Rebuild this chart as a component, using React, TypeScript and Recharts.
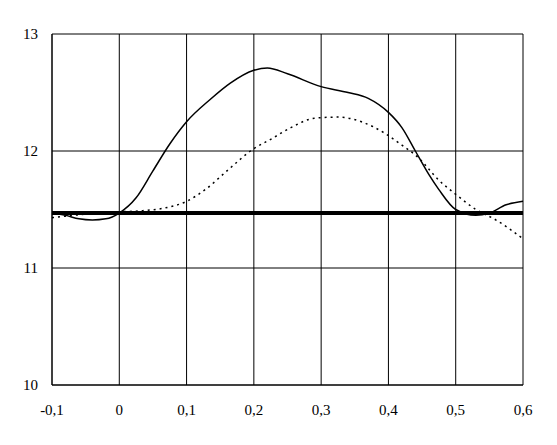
import { LineChart, Line, XAxis, YAxis, CartesianGrid, ReferenceLine } from "recharts";

// solid curve
const solidX = [-0.1, -0.08, -0.06, -0.04, -0.02, 0, 0.025, 0.05, 0.075, 0.1, 0.135, 0.165, 0.2, 0.22, 0.25, 0.3, 0.34, 0.37, 0.4, 0.42, 0.44, 0.46, 0.475, 0.5, 0.53, 0.55, 0.575, 0.6];
const solidY = [11.47, 11.45, 11.42, 11.41, 11.42, 11.47, 11.6, 11.83, 12.06, 12.25, 12.44, 12.58, 12.69, 12.71, 12.66, 12.55, 12.5, 12.45, 12.33, 12.2, 12.0, 11.8, 11.67, 11.5, 11.45, 11.47, 11.54, 11.57];

// dotted curve
const dottedX = [-0.1, -0.05, 0, 0.035, 0.065, 0.1, 0.13, 0.16, 0.2, 0.225, 0.255, 0.29, 0.325, 0.36, 0.395, 0.42, 0.445, 0.475, 0.5, 0.53, 0.56, 0.6];
const dottedY = [11.43, 11.46, 11.48, 11.49, 11.51, 11.57, 11.68, 11.83, 12.02, 12.1, 12.2, 12.28, 12.29, 12.25, 12.15, 12.05, 11.94, 11.75, 11.63, 11.5, 11.41, 11.25];

const baseline = 11.47;

const xTicks = [-0.1, 0, 0.1, 0.2, 0.3, 0.4, 0.5, 0.6];
const yTicks = [10, 11, 12, 13];

const solidData = solidX.map((x, i) => ({ x, y: solidY[i] }));
const dottedData = dottedX.map((x, i) => ({ x, y: dottedY[i] }));

const fmtX = (v: number) => (v === 0 ? "0" : String(v).replace(".", ","));
const tickStyle = { fill: "#000", fontSize: 15, fontFamily: "'Liberation Serif', serif" };

export default function App() {
  return (
    <div style={{ fontFamily: "'Liberation Serif', serif" }}>
      <LineChart width={545} height={430} margin={{ top: 26, right: 30, bottom: 13, left: 0 }}>
        <CartesianGrid stroke="#000" strokeWidth={1} />
        <XAxis
          type="number"
          dataKey="x"
          domain={[-0.1, 0.6]}
          ticks={xTicks}
          tickFormatter={fmtX}
          height={40}
          tickLine={false}
          tickSize={0}
          tickMargin={19}
          axisLine={{ stroke: "#000" }}
          tick={tickStyle}
          allowDuplicatedCategory={false}
        />
        <YAxis
          type="number"
          domain={[10, 13]}
          ticks={yTicks}
          width={44}
          tickLine={false}
          tickSize={0}
          tickMargin={14}
          axisLine={{ stroke: "#000" }}
          tick={tickStyle}
        />
        <ReferenceLine y={baseline} stroke="#000" strokeWidth={4} />
        <Line
          data={dottedData}
          dataKey="y"
          type="monotone"
          stroke="#000"
          strokeWidth={1.5}
          strokeDasharray="2 4"
          dot={false}
          isAnimationActive={false}
        />
        <Line
          data={solidData}
          dataKey="y"
          type="monotone"
          stroke="#000"
          strokeWidth={1.5}
          dot={false}
          isAnimationActive={false}
        />
      </LineChart>
    </div>
  );
}
